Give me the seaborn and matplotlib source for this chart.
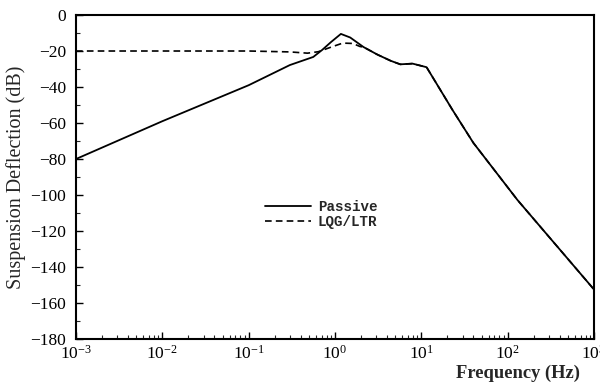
import numpy as np
import pandas as pd
import matplotlib
matplotlib.use("Agg")
import matplotlib.pyplot as plt
from matplotlib.ticker import LogLocator, MultipleLocator, NullFormatter
import seaborn as sns

# Frequency response of suspension deflection
passive_freq = [1e-3, 1e-2, 1e-1, 0.30, 0.56, 0.71, 0.90, 1.17, 1.50, 2.14,
                3.1, 4.4, 5.7, 7.9, 11.5, 23, 40, 130, 1000]
passive_db = [-80, -59, -39, -27.8, -23.3, -19.4, -15.0, -10.5, -12.5, -17.8,
              -22.0, -25.4, -27.4, -27.0, -29.0, -52.8, -71.0, -102.8, -152.5]

lqg_freq = [1e-3, 1e-2, 1e-1, 0.30, 0.48, 0.64, 0.93, 1.23, 1.60, 1.95, 2.14,
            3.1, 4.4, 5.7, 7.9, 11.5, 23, 40, 130, 1000]
lqg_db = [-20.0, -20.0, -20.0, -20.5, -21.2, -20.4, -17.6, -15.6, -15.8, -17.5, -17.8,
          -22.0, -25.4, -27.4, -27.0, -29.0, -52.8, -71.0, -102.8, -152.5]

series_names = ["Passive", "LQG/LTR"]

df = pd.concat([
    pd.DataFrame({"freq": passive_freq, "db": passive_db, "series": series_names[0]}),
    pd.DataFrame({"freq": lqg_freq, "db": lqg_db, "series": series_names[1]}),
], ignore_index=True)

sns.set_theme(style="ticks")
plt.rcParams["font.family"] = ["Liberation Serif", "DejaVu Serif"]
plt.rcParams["mathtext.fontset"] = "custom"
plt.rcParams["mathtext.rm"] = "Liberation Serif"
plt.rcParams["mathtext.it"] = "Liberation Serif:italic"
plt.rcParams["mathtext.bf"] = "Liberation Serif:bold"

fig = plt.figure(figsize=(6.0, 3.82), dpi=100)
ax = fig.add_axes([0.1267, 0.1126, 0.8633, 0.8481])

sns.lineplot(data=df[df.series == "LQG/LTR"], x="freq", y="db", ax=ax,
             color="black", lw=1.2, linestyle=(0, (4, 2.5)), label="LQG/LTR",
             estimator=None, sort=False)
sns.lineplot(data=df[df.series == "Passive"], x="freq", y="db", ax=ax,
             color="black", lw=1.3, label="Passive", estimator=None, sort=False)

ax.set_xscale("log")
ax.set_xlim(1e-3, 1e3)
ax.set_ylim(-180, 0)
ax.yaxis.set_major_locator(MultipleLocator(20))
ax.yaxis.set_minor_locator(MultipleLocator(10))
ax.xaxis.set_major_locator(LogLocator(base=10, numticks=10))
ax.xaxis.set_minor_locator(LogLocator(base=10, subs=np.arange(2, 10), numticks=20))
ax.xaxis.set_minor_formatter(NullFormatter())

ax.tick_params(axis="both", which="major", direction="in", length=5, width=1,
               labelsize=12.5, colors="black", top=False, right=False)
ax.tick_params(axis="both", which="minor", direction="in", length=3, width=0.8,
               top=False, right=False)
ax.tick_params(axis="x", which="major", pad=4)
ax.tick_params(axis="y", which="major", pad=7)

for s in ax.spines.values():
    s.set_visible(True)
    s.set_linewidth(1.5)
    s.set_color("black")

ax.set_xlabel("")
ax.set_ylabel("Suspension Deflection (dB)", fontsize=14.5, labelpad=3)
fig.text(0.967, 0.0, "Frequency (Hz)", ha="right", va="bottom",
         fontsize=13.3, fontweight="bold")

handles, labels = ax.get_legend_handles_labels()
order = [labels.index(n) for n in series_names]
ax.legend([handles[i] for i in order], [labels[i] for i in order],
          loc="upper left", bbox_to_anchor=(0.3395, 0.468), frameon=False,
          handlelength=3.3, handletextpad=0.45, labelspacing=0.08,
          prop={"family": "Liberation Mono", "weight": "bold", "size": 10.2})

fig.savefig("out.png", dpi=100, facecolor="white")
